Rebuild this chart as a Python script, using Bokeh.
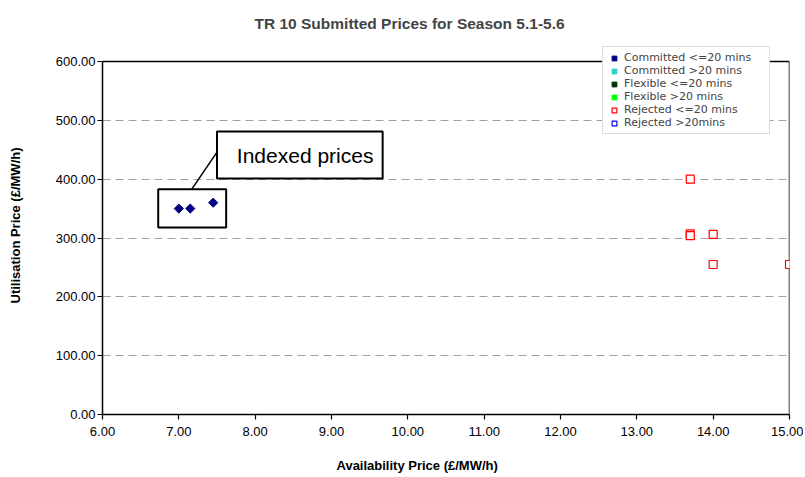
import math
from bokeh.plotting import figure
from bokeh.models import (Range1d, FixedTicker, NumeralTickFormatter, Legend, LegendItem,
                          BoxAnnotation, Label, Title)
from bokeh.embed import file_html
from bokeh.resources import INLINE

# ---- data ----
committed_le20_x = [7.00, 7.15, 7.45]
committed_le20_y = [350, 350, 360]
committed_gt20_x, committed_gt20_y = [], []
flexible_le20_x, flexible_le20_y = [], []
flexible_gt20_x, flexible_gt20_y = [], []
rejected_le20_x = [13.70, 13.70, 13.70, 14.00, 14.00, 15.00]
rejected_le20_y = [400, 307, 304, 306, 255, 255]
rejected_gt20_x, rejected_gt20_y = [], []

x_ticks = [6, 7, 8, 9, 10, 11, 12, 13, 14, 15]
y_ticks = [0, 100, 200, 300, 400, 500, 600]
X_MIN, X_MAX, Y_MIN, Y_MAX = 6, 15, 0, 600

FONT = "Liberation Sans"
EXTRA = 25  # px of frame above the 600 line (room for the legend)
FRAME_H = 353 + EXTRA

p = figure(frame_width=687, frame_height=FRAME_H, min_border_left=102, min_border_right=14,
           min_border_top=36, min_border_bottom=60,
           x_range=Range1d(X_MIN, X_MAX), y_range=Range1d(Y_MIN, Y_MAX * FRAME_H / 353),
           output_backend="svg", toolbar_location=None)

p.title.text = "TR 10 Submitted Prices for Season 5.1-5.6"
p.title.align = "left"
p.title.offset = 152
p.title.standoff = 10
p.title.text_font = FONT
p.title.text_font_size = "15.5px"
p.title.text_font_style = "bold"

p.outline_line_color = None
p.xgrid.visible = False
p.ygrid.grid_line_color = "#a0a0a0"
p.ygrid.grid_line_dash = "8 5"
p.ygrid.grid_line_width = 1

for ax in (p.xaxis[0], p.yaxis[0]):
    ax.axis_line_color = "black"
    ax.axis_line_width = 1.5
    ax.major_tick_in = 0
    ax.major_tick_out = 5
    ax.major_tick_line_width = 1.2
    ax.minor_tick_line_color = None
    ax.major_label_text_font = FONT
    ax.major_label_text_font_size = "13px"
    ax.major_label_text_color = "black"
    ax.axis_label_text_font = FONT
    ax.axis_label_text_font_size = "13px"
    ax.axis_label_text_font_style = "bold"
    ax.axis_label_text_color = "black"
    ax.formatter = NumeralTickFormatter(format="0.00")

p.xaxis[0].ticker = FixedTicker(ticks=x_ticks)
p.yaxis[0].ticker = FixedTicker(ticks=y_ticks)
p.yaxis[0].bounds = (Y_MIN, Y_MAX)
p.yaxis[0].axis_label = "Utilisation Price (£/MW/h)"
p.xaxis[0].major_label_standoff = 7
p.yaxis[0].major_label_standoff = 2
p.yaxis[0].axis_label_standoff = 30

xlabel = Title(text="Availability Price (£/MW/h)", align="left", offset=234, standoff=34,
               text_font=FONT, text_font_size="13px", text_font_style="bold",
               text_color="black")
p.add_layout(xlabel, "below")

# plot-area border (top and right)
p.segment(x0=[X_MIN, X_MAX], y0=[Y_MAX, Y_MIN], x1=[X_MAX, X_MAX], y1=[Y_MAX, Y_MAX],
          line_color="black", line_width=1.5)

# callout
p.add_layout(BoxAnnotation(left=7.50, right=9.67, bottom=401, top=481,
                           fill_color="white", fill_alpha=1,
                           line_color="black", line_alpha=1, line_width=2))
p.add_layout(BoxAnnotation(left=6.73, right=7.62, bottom=318, top=383,
                           fill_alpha=0, line_color="black", line_alpha=1, line_width=2))
p.line([7.17, 7.50], [383, 446], line_color="black", line_width=1.5)
p.add_layout(Label(x=7.76, y=441, text="Indexed prices", text_font=FONT,
                   text_font_size="21px", text_baseline="middle", text_color="black"))

def pts(v):
    return v if v else [float("nan")]

DIAM = dict(marker="square", angle=math.pi / 4, size=6.5)
r1 = p.scatter(pts(committed_le20_x), pts(committed_le20_y), fill_color="#000080", line_color="#000080", **DIAM)
r2 = p.scatter(pts(committed_gt20_x), pts(committed_gt20_y), fill_color="#33CCCC", line_color="#33CCCC", **DIAM)
r3 = p.scatter(pts(flexible_le20_x), pts(flexible_le20_y), fill_color="#003300", line_color="#003300", **DIAM)
r4 = p.scatter(pts(flexible_gt20_x), pts(flexible_gt20_y), fill_color="#00FF00", line_color="#00FF00", **DIAM)
r5 = p.scatter(pts(rejected_le20_x), pts(rejected_le20_y), marker="square", size=8,
               fill_color="white", line_color="red", line_width=1.2)
r6 = p.scatter(pts(rejected_gt20_x), pts(rejected_gt20_y), marker="square", size=8,
               fill_color="white", line_color="blue", line_width=1.2)

legend = Legend(items=[
    LegendItem(label="Committed <=20 mins", renderers=[r1]),
    LegendItem(label="Committed >20 mins", renderers=[r2]),
    LegendItem(label="Flexible <=20 mins", renderers=[r3]),
    LegendItem(label="Flexible >20 mins", renderers=[r4]),
    LegendItem(label="Rejected <=20 mins", renderers=[r5]),
    LegendItem(label="Rejected >20mins", renderers=[r6]),
], location=(500, 280))
legend.label_text_font = "DejaVu Sans"
legend.label_text_font_size = "11px"
legend.label_height = 12
legend.label_width = 141
legend.glyph_height = 12
legend.glyph_width = 14
legend.spacing = 0
legend.padding = 4
legend.margin = 0
legend.label_standoff = 3
legend.border_line_color = "#bbbbbb"
legend.background_fill_alpha = 1
p.add_layout(legend)

open("out.html", "w").write(file_html(p, INLINE))
